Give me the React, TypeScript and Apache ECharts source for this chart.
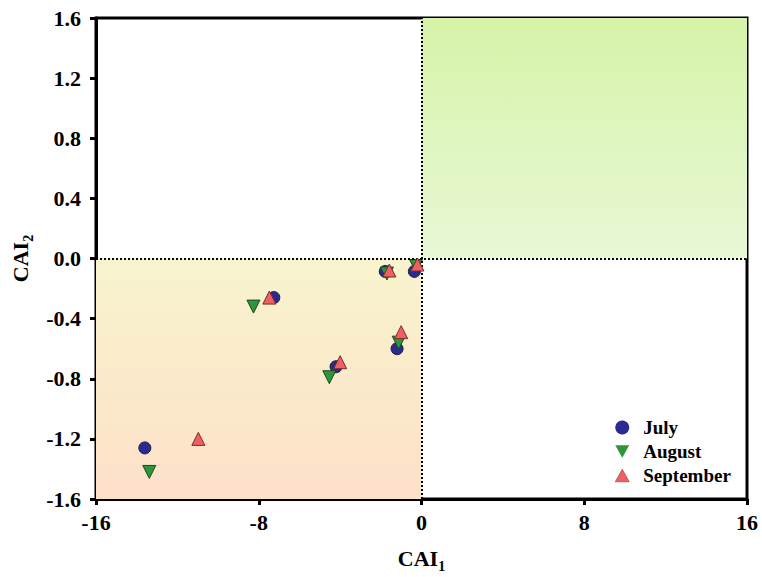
import React, { useEffect, useRef } from "react";
import * as echarts from "echarts";

const julyX = [-13.6, -7.26, -4.2, -1.78, -0.35, -1.2];
const julyY = [-1.26, -0.26, -0.72, -0.086, -0.086, -0.6];
const augustX = [-13.38, -8.26, -4.53, -1.7, -1.12, -0.27];
const augustY = [-1.42, -0.32, -0.79, -0.1, -0.56, -0.05];
const septemberX = [-10.97, -7.48, -4.0, -1.58, -1.0, -0.2];
const septemberY = [-1.2, -0.26, -0.69, -0.08, -0.49, -0.04];

const xTicks = [-16, -8, 0, 8, 16];
const yTicks = [-1.6, -1.2, -0.8, -0.4, 0.0, 0.4, 0.8, 1.2, 1.6];

const zip = (xs: number[], ys: number[]) => xs.map((x, i) => [x, ys[i]]);

export default function App() {
  const ref = useRef<HTMLDivElement>(null);
  useEffect(() => {
    if (!ref.current) return;
    const chart = echarts.init(ref.current, undefined, { renderer: "svg" });
    const font = "'Liberation Serif', 'Times New Roman', serif";
    const axisCommon = {
      axisLine: { show: true, onZero: false, lineStyle: { color: "#000", width: 3 } },
      axisTick: { show: true, inside: false, length: 6, lineStyle: { color: "#000", width: 3 } },
      splitLine: { show: false },
      axisLabel: { color: "#000", fontFamily: font, fontWeight: "bold", fontSize: 22 },
    };
    const nameRich = {
      b: { fontFamily: font, fontWeight: "bold", fontSize: 22, color: "#000" },
      s: { fontFamily: font, fontWeight: "bold", fontSize: 14, color: "#000", verticalAlign: "bottom", padding: [16, 0, 0, 0] },
    };
    chart.setOption({
      animation: false,
      backgroundColor: "#fff",
      grid: {
        left: 96, right: 15, top: 18, bottom: 78,
        outerBoundsMode: "none",
        containLabel: false,
        show: true, borderColor: "#000", borderWidth: 3, backgroundColor: "transparent",
      },
      xAxis: {
        type: "value",
        min: -16,
        max: 16,
        interval: 8,
        ...axisCommon,
        axisLabel: { ...axisCommon.axisLabel, margin: 12, formatter: (v: number) => (xTicks.includes(v) ? String(v) : "") },
        name: "{b|CAI}{s|1}",
        nameLocation: "middle",
        nameGap: 44,
        nameTextStyle: { rich: nameRich },
      },
      yAxis: {
        type: "value",
        min: -1.6,
        max: 1.6,
        interval: 0.4,
        ...axisCommon,
        axisLabel: { ...axisCommon.axisLabel, margin: 15, formatter: (v: number) => {
          const t = yTicks.find((k) => Math.abs(k - v) < 1e-6);
          return t === undefined ? "" : t.toFixed(1);
        } },
        name: "{b|CAI}{s|2}",
        nameLocation: "middle",
        nameGap: 60,
        nameRotate: 90,
        nameTextStyle: { rich: nameRich },
      },
      legend: {
        orient: "vertical",
        left: 610,
        top: 413,
        itemGap: 5,
        itemWidth: 14,
        itemHeight: 14,
        textStyle: { fontFamily: font, fontWeight: "bold", fontSize: 19, color: "#000", padding: [0, 0, 0, 9] },
        data: [
          { name: "July", icon: "circle", itemStyle: { borderWidth: 0, opacity: 1 } },
          { name: "August", icon: "path://M0,0 L10,0 L5,9 Z", itemStyle: { borderWidth: 0, opacity: 1 } },
          { name: "September", icon: "path://M5,0 L10,9 L0,9 Z", itemStyle: { borderWidth: 0.5, opacity: 1 } },
        ],
      },
      series: [
        {
          name: "bg",
          type: "scatter",
          data: [],
          silent: true,
          markArea: {
            silent: true,
            data: [
              [
                {
                  coord: [0, 0],
                  itemStyle: {
                    opacity: 1,
                    color: {
                      type: "linear", x: 0, y: 0, x2: 0, y2: 1,
                      colorStops: [
                        { offset: 0, color: "#d6f3a8" },
                        { offset: 1, color: "#e8f8d6" },
                      ],
                    },
                  },
                },
                { coord: [16, 1.6] },
              ],
              [
                {
                  coord: [-16, 0],
                  itemStyle: {
                    opacity: 1,
                    color: {
                      type: "linear", x: 0, y: 0, x2: 0, y2: 1,
                      colorStops: [
                        { offset: 0, color: "#f8f4ce" },
                        { offset: 1, color: "#fde0c8" },
                      ],
                    },
                  },
                },
                { coord: [0, -1.6] },
              ],
            ],
          },
          markLine: {
            silent: true,
            symbol: "none",
            label: { show: false },
            lineStyle: { color: "#000", type: [2, 2], width: 2 },
            data: [{ xAxis: 0 }, { yAxis: 0 }],
          },
        },
        {
          name: "July",
          type: "scatter",
          symbol: "circle",
          symbolSize: 12,
          itemStyle: { color: "#2a2a92", borderColor: "#1a1a40", borderWidth: 1, opacity: 1 },
          data: zip(julyX, julyY),
          z: 3,
        },
        {
          name: "August",
          type: "scatter",
          symbol: "triangle",
          symbolRotate: 180,
          symbolSize: 13,
          itemStyle: { color: "#2e963a", borderColor: "#1c4a20", borderWidth: 1, opacity: 1 },
          data: zip(augustX, augustY),
          z: 4,
        },
        {
          name: "September",
          type: "scatter",
          symbol: "triangle",
          symbolSize: 13,
          itemStyle: { color: "#f06060", borderColor: "#7a2a2a", borderWidth: 1, opacity: 1 },
          data: zip(septemberX, septemberY),
          z: 5,
        },
      ],
    });
    return () => chart.dispose();
  }, []);
  return <div ref={ref} style={{ width: 762, height: 577, position: "absolute", left: 0, top: 0 }} />;
}
